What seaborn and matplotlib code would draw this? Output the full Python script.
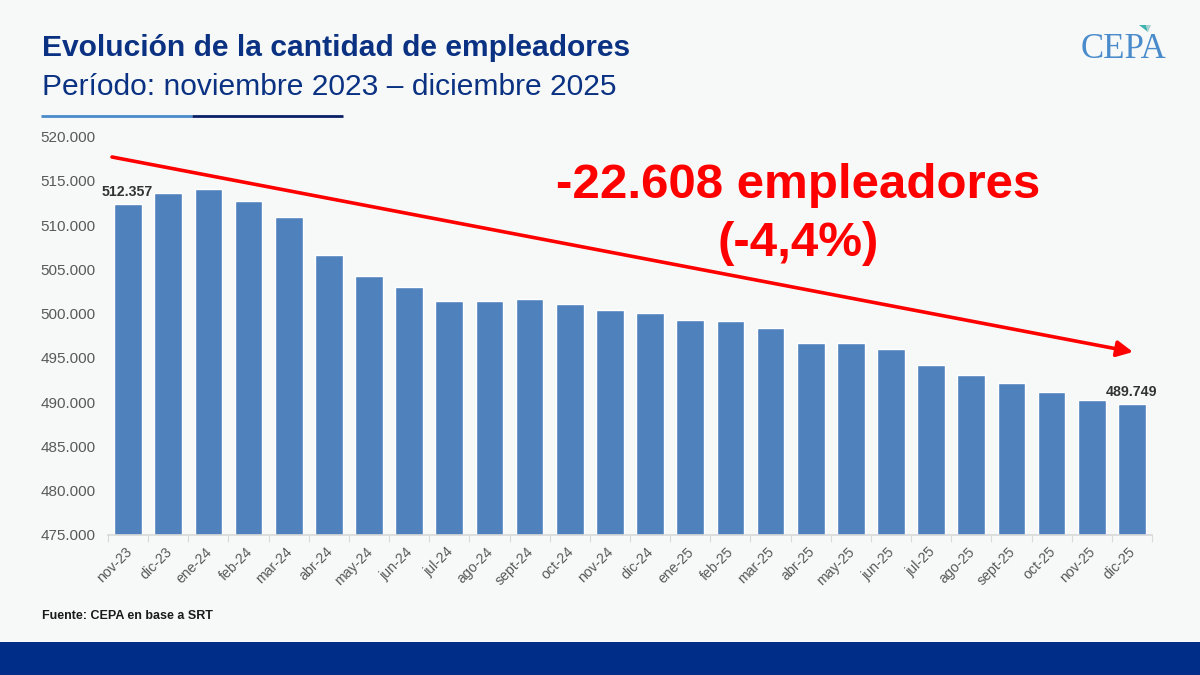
import matplotlib
matplotlib.use("Agg")
import matplotlib.pyplot as plt
from matplotlib.lines import Line2D
from matplotlib.patches import Rectangle, Polygon
from matplotlib.ticker import FuncFormatter, MultipleLocator
from matplotlib.transforms import ScaledTranslation
import pandas as pd
import seaborn as sns

months = ["nov-23","dic-23","ene-24","feb-24","mar-24","abr-24","may-24","jun-24","jul-24","ago-24",
          "sept-24","oct-24","nov-24","dic-24","ene-25","feb-25","mar-25","abr-25","may-25","jun-25",
          "jul-25","ago-25","sept-25","oct-25","nov-25","dic-25"]
employers = [512357,513600,514100,512700,510900,506600,504300,503050,501450,501450,
             501650,501050,500400,500050,499250,499150,498350,496700,496700,495950,
             494200,493100,492150,491200,490300,489749]

BG = "#F7F9F8"
W, H = 1200, 675
sns.set_theme(style="white")
plt.rcParams["font.family"] = ["Liberation Sans", "DejaVu Sans"]

fig = plt.figure(figsize=(12, 6.75), dpi=100, facecolor=BG)
def fx(x): return x / W
def fy(y): return 1 - y / H

ax = fig.add_axes([fx(108), fy(535), (1152 - 108) / W, (535 - 136.5) / H], facecolor="none")
df = pd.DataFrame({"mes": months, "empleadores": employers})
sns.barplot(data=df, x="mes", y="empleadores", color="#4F81BD", saturation=1, width=0.69, ax=ax)
ax.set_xlim(-0.5, len(months) - 0.5)
ax.set_ylim(475000, 520000)
ax.set_xlabel(""); ax.set_ylabel("")
ax.yaxis.set_major_locator(MultipleLocator(5000))
ax.yaxis.set_major_formatter(FuncFormatter(lambda v, _: f"{int(v):,}".replace(",", ".")))
for s in ["top", "right", "left"]:
    ax.spines[s].set_visible(False)
ax.spines["bottom"].set_color("#D9D9D9")
ax.set_xticks([i - 0.5 for i in range(len(months) + 1)], minor=True)
ax.tick_params(axis="x", which="minor", length=5, color="#D9D9D9", width=0.8, bottom=True)
ax.tick_params(axis="x", which="major", length=0, labelsize=10.2, labelcolor="#595959", pad=7)
ax.tick_params(axis="y", length=0, labelsize=11, labelcolor="#595959", pad=9)
shift = ScaledTranslation(-3.5 / 100, 0, fig.dpi_scale_trans)
for lab in ax.get_xticklabels():
    lab.set_rotation(45); lab.set_ha("right"); lab.set_rotation_mode("anchor")
    lab.set_transform(lab.get_transform() + shift)

fmt = lambda v: f"{v:,}".replace(",", ".")
ax.text(-0.03, employers[0] + 600, fmt(employers[0]), ha="center", va="bottom", fontsize=10.2,
        fontweight="bold", color="#333333")
ax.text(25, employers[-1] + 600, fmt(employers[-1]), ha="center", va="bottom", fontsize=10.2,
        fontweight="bold", color="#333333")

fig.text(fx(42), fy(48), "Evolución de la cantidad de empleadores", fontsize=21.6, fontweight="bold",
         color="#0B3282", va="center")
fig.text(fx(42), fy(87), "Período: noviembre 2023 – diciembre 2025", fontsize=21.6,
         color="#0B3282", va="center")
fig.add_artist(Line2D([fx(41), fx(192)], [fy(116)] * 2, color="#4A8BCB", lw=2, solid_capstyle="butt"))
fig.add_artist(Line2D([fx(192), fx(343)], [fy(116)] * 2, color="#0A1F66", lw=2, solid_capstyle="butt"))

ax.annotate("", xy=(fx(1133), fy(352)), xytext=(fx(112), fy(157)),
            xycoords="figure fraction", textcoords="figure fraction",
            arrowprops=dict(arrowstyle="-|>,head_length=0.6,head_width=0.3", color="#FF0000", lw=2.6,
                            mutation_scale=16, shrinkA=0, shrinkB=0))
fig.text(fx(798), fy(185), "-22.608 empleadores", fontsize=35.5, fontweight="bold", color="#FF0000",
         ha="center", va="center")
fig.text(fx(798), fy(243), "(-4,4%)", fontsize=35.5, fontweight="bold", color="#FF0000",
         ha="center", va="center")

fig.text(fx(42), fy(616), "Fuente: CEPA en base a SRT", fontsize=9, fontweight="bold",
         color="#1A1A1A", va="center")
fig.add_artist(Rectangle((0, 0), 1, (675 - 642) / H, transform=fig.transFigure, color="#002D87", lw=0))

fig.text(fx(1123), fy(49), "CEPA", fontsize=25, family=["Liberation Serif"], color="#4A8BCB",
         ha="center", va="center")
fig.add_artist(Polygon([[fx(1139), fy(25)], [fx(1146), fy(25)], [fx(1148), fy(32)]],
                       closed=True, transform=fig.transFigure, color="#3FB3B0", lw=0))
fig.add_artist(Polygon([[fx(1146), fy(25)], [fx(1151), fy(25)], [fx(1148), fy(32)]],
                       closed=True, transform=fig.transFigure, color="#A9CFCF", lw=0))

fig.savefig("out.png", dpi=100, facecolor=BG)
